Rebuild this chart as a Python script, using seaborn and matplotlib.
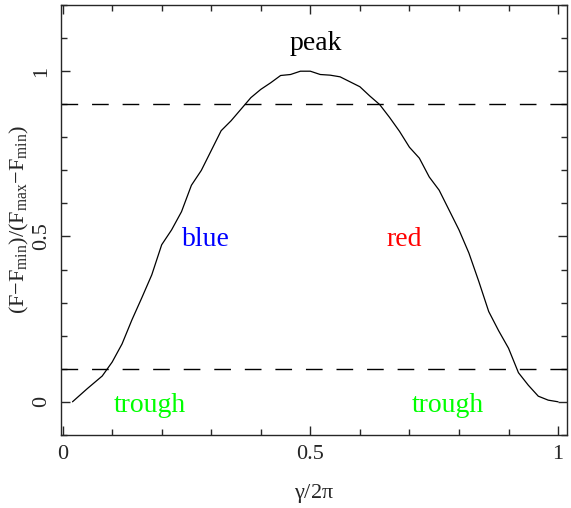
import matplotlib
matplotlib.use("Agg")
import matplotlib.pyplot as plt
import numpy as np
import pandas as pd
import seaborn as sns
from matplotlib.ticker import MultipleLocator, FuncFormatter

# light curve
phase = [0.02, 0.05, 0.08, 0.10, 0.12, 0.14, 0.16, 0.18, 0.20, 0.22,
         0.24, 0.26, 0.28, 0.30, 0.32, 0.34, 0.36, 0.38, 0.40, 0.42,
         0.44, 0.46, 0.48, 0.50, 0.52, 0.54, 0.56, 0.58, 0.60, 0.62,
         0.64, 0.66, 0.68, 0.70, 0.72, 0.74, 0.76, 0.78, 0.80, 0.82,
         0.84, 0.86, 0.88, 0.90, 0.92, 0.94, 0.96, 0.98, 1.00]
flux = [0.0, 0.04, 0.078, 0.12, 0.175, 0.248, 0.315, 0.384, 0.475, 0.52,
        0.575, 0.655, 0.70, 0.76, 0.82, 0.85, 0.885, 0.92, 0.945, 0.965,
        0.987, 0.99, 1.0, 1.0, 0.99, 0.988, 0.983, 0.968, 0.953, 0.925,
        0.899, 0.86, 0.818, 0.77, 0.737, 0.68, 0.64, 0.58, 0.52, 0.45,
        0.364, 0.273, 0.215, 0.162, 0.088, 0.05, 0.017, 0.005, 0.0]
levels = [0.9, 0.1]

labels = ["peak", "blue", "red", "trough", "trough"]
label_x = [0.512, 0.29, 0.69, 0.177, 0.778]
label_y = [1.085, 0.49, 0.49, -0.01, -0.01]
label_colors = ["black", "#0000ff", "#ff0000", "#00ff00", "#00ff00"]

sns.set_style("ticks")
plt.rcParams["font.family"] = ["Liberation Serif", "DejaVu Serif"]
plt.rcParams["mathtext.fontset"] = "custom"
plt.rcParams["mathtext.rm"] = "Liberation Serif"
plt.rcParams["mathtext.it"] = "Liberation Serif:italic"

df = pd.DataFrame({"phase": phase, "flux": flux})

fig = plt.figure(figsize=(5.71, 5.08), dpi=100)
ax = fig.add_axes([0.107, 0.144, 0.886, 0.846])

sns.lineplot(data=df, x="phase", y="flux", color="black", linewidth=0.9, ax=ax)
for lev in levels:
    ax.axhline(lev, color="black", linewidth=1.0, linestyle=(0, (12, 10)))

for txt, tx, ty, c in zip(labels, label_x, label_y, label_colors):
    ax.text(tx, ty, txt, color=c, fontsize=20, ha="center", va="center")

ax.set_xlim(-0.003, 1.018)
ax.set_ylim(-0.1, 1.2)
ax.xaxis.set_major_locator(MultipleLocator(0.5))
ax.xaxis.set_minor_locator(MultipleLocator(0.1))
ax.yaxis.set_major_locator(MultipleLocator(0.5))
ax.yaxis.set_minor_locator(MultipleLocator(0.1))
ax.xaxis.set_major_formatter(FuncFormatter(lambda v, p: f"{v:g}"))
ax.yaxis.set_major_formatter(FuncFormatter(lambda v, p: f"{v:g}"))
ax.tick_params(which="both", direction="in", top=True, right=True, labelsize=16, width=1.0)
ax.tick_params(which="major", length=6.5, pad=7)
ax.tick_params(which="minor", length=4.5)
for lab in ax.get_yticklabels():
    lab.set_rotation(90)
    lab.set_va("center")
for sp in ax.spines.values():
    sp.set_linewidth(1.0)

ax.set_xlabel(r"$\mathrm{\gamma/2\pi}$", fontsize=16, labelpad=13)
ax.set_ylabel(r"$\mathrm{(F{-}F_{min})/(F_{max}{-}F_{min})}$", fontsize=16, labelpad=1)

fig.savefig("out.png", dpi=100)
